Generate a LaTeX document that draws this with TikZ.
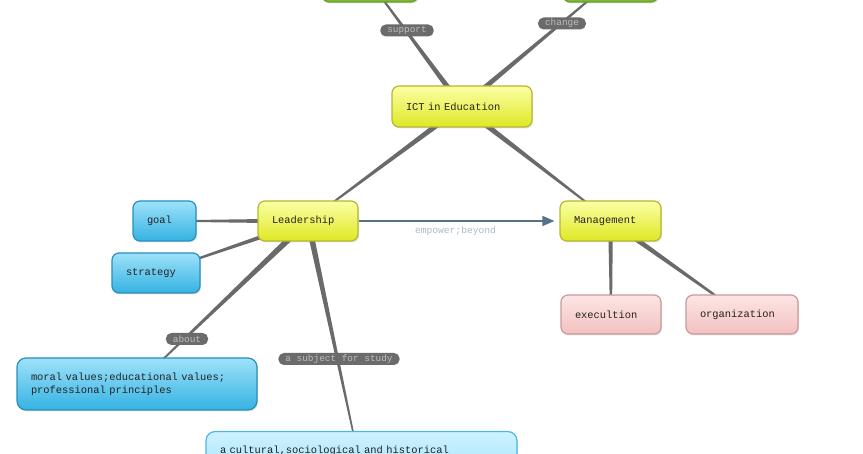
\documentclass[tikz,border=0pt]{standalone}
\usepackage{fontspec}
\setmonofont{Liberation Mono}
\usetikzlibrary{arrows.meta,calc,shadows,backgrounds}
\definecolor{txt}{HTML}{222222}
\definecolor{ylwtop}{HTML}{FBFFA6}
\definecolor{ylwbot}{HTML}{DFE824}
\definecolor{ylwbrd}{HTML}{B4B830}
\definecolor{blutop}{HTML}{9EE2FA}
\definecolor{blubot}{HTML}{35B2E2}
\definecolor{blubrd}{HTML}{2A8FBA}
\definecolor{lbltop}{HTML}{CDF2FF}
\definecolor{lblbot}{HTML}{86D8F7}
\definecolor{lblbrd}{HTML}{4DB6E2}
\definecolor{pnktop}{HTML}{FDE6E6}
\definecolor{pnkbot}{HTML}{F3C0C0}
\definecolor{pnkbrd}{HTML}{C89A9A}
\definecolor{grntop}{HTML}{9CD24C}
\definecolor{grnbot}{HTML}{7DB833}
\definecolor{grnbrd}{HTML}{67A02A}
\definecolor{taperc}{HTML}{6A6A6A}
\definecolor{pillfill}{HTML}{6B6B6B}
\definecolor{pilltext}{HTML}{BDBDBD}
\definecolor{arrowc}{HTML}{55728A}
\definecolor{empc}{HTML}{A9B9C9}
\newcommand\monospacing{\fontdimen2\font=0.6em\fontdimen3\font=0pt\fontdimen4\font=0pt\relax}
\newcommand\taperline[4]{%
  \fill[taperc] ($(#1)!#3!90:(#2)$) -- ($(#2)!#4!-90:(#1)$) -- ($(#2)!#4!90:(#1)$) -- ($(#1)!#3!-90:(#2)$) -- cycle;}
\tikzset{
  mapbox/.style={rectangle, rounded corners=7pt, line width=1.2pt, inner xsep=14pt, inner ysep=2pt,
    align=left, text=txt, font=\ttfamily\fontsize{10.4}{13}\selectfont\monospacing,
    drop shadow={shadow xshift=1pt, shadow yshift=-1.5pt, opacity=0.22}},
  ylwbox/.style={mapbox, draw=ylwbrd, top color=ylwtop, bottom color=ylwbot},
  blubox/.style={mapbox, draw=blubrd, top color=blutop, bottom color=blubot},
  lblbox/.style={mapbox, draw=lblbrd, top color=lbltop, bottom color=lblbot},
  pnkbox/.style={mapbox, draw=pnkbrd, top color=pnktop, bottom color=pnkbot},
  grnbox/.style={mapbox, draw=grnbrd, top color=grntop, bottom color=grnbot},
  pill/.style={rectangle, rounded corners=5.5pt, fill=pillfill, text=pilltext, inner xsep=7pt, inner ysep=0pt,
    minimum height=12pt, font=\ttfamily\fontsize{9.4}{10}\selectfont\monospacing},
  linklabel/.style={text=empc, font=\ttfamily\fontsize{9.6}{10}\selectfont\monospacing, inner sep=0pt},
  arrowline/.style={draw=arrowc, line width=1.5pt, -{Triangle[length=12pt,width=10pt]}, shorten >=5pt}
}
\begin{document}
\begin{tikzpicture}[x=1pt,y=-1pt]
\useasboundingbox (0,0) rectangle (863,454);
% nodes
\node[grnbox, text width=68pt, minimum height=40pt] (gl) at (370,-18) {};
\node[grnbox, text width=67pt, minimum height=40pt] (gr) at (610.5,-18) {};
\node[ylwbox, text width=112pt, minimum height=41pt] (ict) at (462,106.5) {ICT in Education};
\node[ylwbox, text width=72pt, minimum height=40pt] (lead) at (308,221) {Leadership};
\node[ylwbox, text width=73pt, minimum height=40pt] (mgmt) at (610.5,221) {Management};
\node[blubox, text width=35pt, minimum height=40pt] (goal) at (164.5,221) {goal};
\node[blubox, text width=60pt, minimum height=40pt] (strat) at (156,273) {strategy};
\node[pnkbox, text width=72pt, minimum height=39pt] (exec) at (611,314.5) {execultion};
\node[pnkbox, text width=84pt, minimum height=39pt] (org) at (742,314.5) {organization};
\node[blubox, rounded corners=9pt, text width=212pt, minimum height=52pt] (moral) at (137,384)
  {moral values;educational values;\\professional principles};
\node[lblbox, rounded corners=9pt, text width=283pt, inner ysep=0pt, anchor=north] (study) at (361.5,431)
  {\vbox to 80pt{\vskip 14pt\hbox{a cultural,sociological and historical}\vfill}};
% tapered connectors
\begin{pgfonlayer}{background}
\taperline{ict}{gl}{2.8pt}{0.7pt}
\taperline{ict}{gr}{2.8pt}{0.7pt}
\taperline{ict}{lead}{3pt}{0.6pt}
\taperline{ict}{mgmt}{3pt}{0.6pt}
\taperline{lead}{goal}{2.6pt}{0.6pt}
\taperline{lead}{strat}{2.6pt}{0.6pt}
\taperline{lead}{moral}{3.2pt}{0.5pt}
\taperline{lead}{study}{3pt}{0.4pt}
\taperline{mgmt}{exec}{2.4pt}{1pt}
\taperline{mgmt}{org}{2.8pt}{0.8pt}
\end{pgfonlayer}
% arrow
\draw[arrowline] (lead) -- (mgmt);
\node[linklabel] (emp) at (455.5,231) {empower;beyond};
% link labels
\node[pill] (lsupport) at (407,30.5) {support};
\node[pill] (lchange) at (562,23.5) {change};
\node[pill] (labout) at (187,339) {about};
\node[pill] (lsubject) at (339,359) {a subject for study};
\end{tikzpicture}
\end{document}
